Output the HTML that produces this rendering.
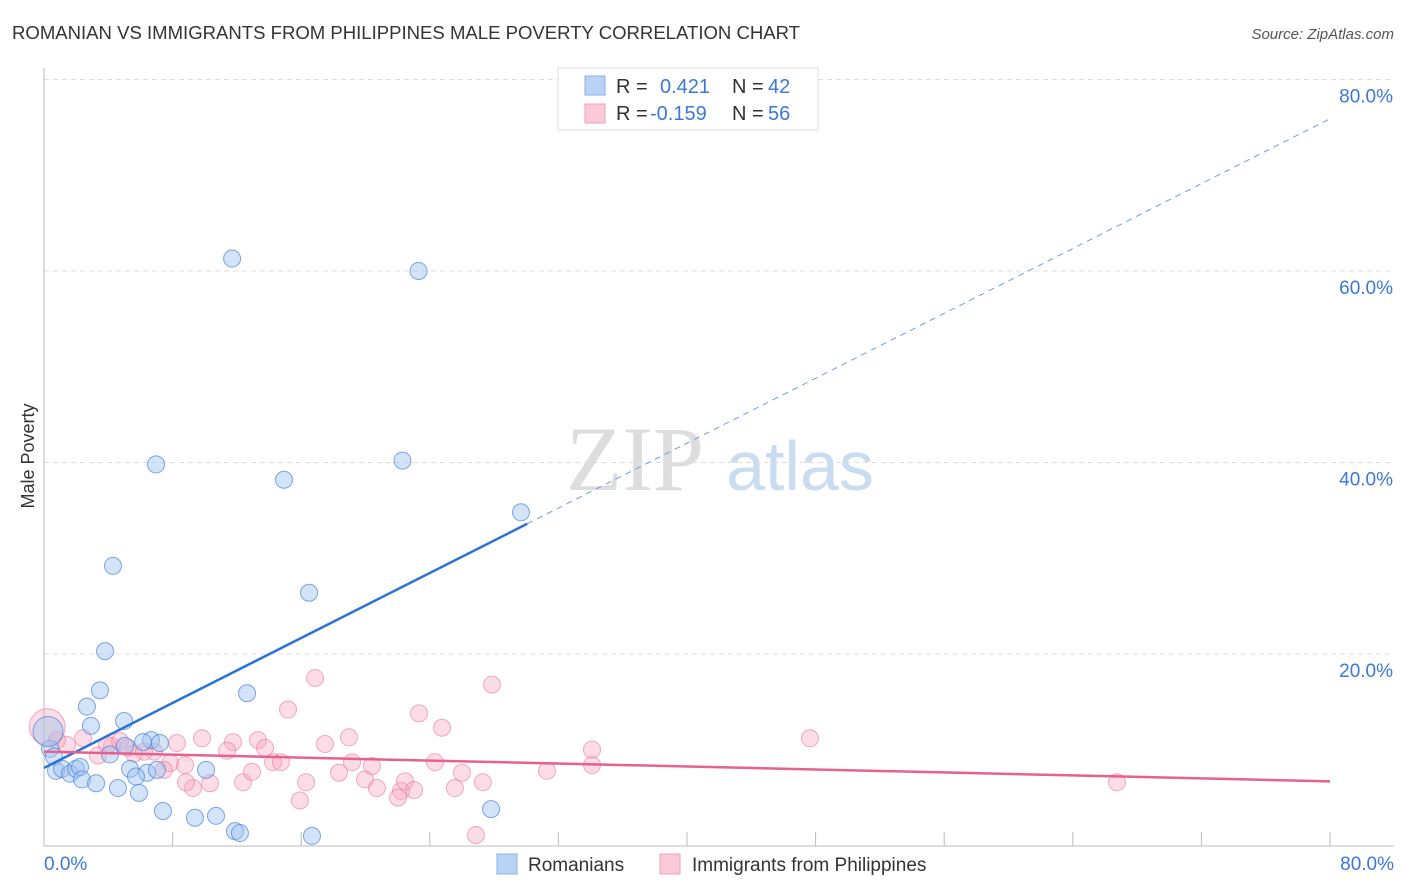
<!DOCTYPE html>
<html><head><meta charset="utf-8"><style>
body{margin:0;background:#fff;font-family:"Liberation Sans",sans-serif;}
svg{display:block}
</style></head><body>
<svg id="chart" width="1406" height="892">
<text x="12" y="39" font-size="18" fill="#333" textLength="788" lengthAdjust="spacingAndGlyphs">ROMANIAN VS IMMIGRANTS FROM PHILIPPINES MALE POVERTY CORRELATION CHART</text>
<text x="1394" y="39" font-size="15" fill="#555" font-style="italic" text-anchor="end">Source: ZipAtlas.com</text>
<text x="34" y="456" font-size="18" fill="#333" transform="rotate(-90 34 456)" text-anchor="middle">Male Poverty</text>
<g><text x="635" y="490" font-size="92" font-family="Liberation Serif,serif" fill="#ddd" text-anchor="middle">ZIP</text><text x="800" y="490" font-size="70" fill="#c9dcf2" text-anchor="middle">atlas</text></g>
<g id="grid"></g><g id="axes"></g><g id="pts"></g><g id="lines"></g>
<g>
<rect x="558" y="68" width="260" height="62" fill="#fff" stroke="#ddd"/>
<rect x="585" y="76" width="20" height="19" fill="#b8d3f5" stroke="#88b0e8"/>
<rect x="585" y="104" width="20" height="19" fill="#fbc9d7" stroke="#f0a0b8"/>
<text x="616" y="93" font-size="20" fill="#333">R = </text><text x="660" y="93" font-size="20" fill="#3b78d8">0.421</text>
<text x="732" y="93" font-size="20" fill="#333">N = </text><text x="768" y="93" font-size="20" fill="#3b78d8">42</text>
<text x="616" y="120" font-size="20" fill="#333">R = </text><text x="650" y="120" font-size="20" fill="#3b78d8">-0.159</text>
<text x="732" y="120" font-size="20" fill="#333">N = </text><text x="768" y="120" font-size="20" fill="#3b78d8">56</text>
</g>
<g>
<rect x="497" y="854" width="20" height="20" fill="#b8d3f5" stroke="#88b0e8"/>
<text x="528" y="871" font-size="19" fill="#333">Romanians</text>
<rect x="660" y="854" width="20" height="20" fill="#fbc9d7" stroke="#f0a0b8"/>
<text x="692" y="871" font-size="19" fill="#333">Immigrants from Philippines</text>
</g>
</svg>
<script>
const yTicks=[20,40,60,80];
const yTickLabels=["20.0%","40.0%","60.0%","80.0%"];
const xEndLabels=["0.0%","80.0%"];
const blueX=[11.7,23.3,6.97,22.3,14.93,29.67,4.29,16.49,3.8,3.48,12.63,2.67,4.98,2.92,6.66,6.16,5.04,4.1,0.37,0.62,0.75,1.12,1.62,1.99,2.24,5.35,10.08,7.21,6.41,7.03,5.72,2.36,3.24,4.6,5.91,7.4,10.7,9.39,11.88,12.19,16.67,27.81,0.25];
const blueY=[61.3,60.0,39.8,40.2,38.2,34.8,29.2,26.4,20.3,16.2,15.9,14.5,13.0,12.5,11.0,10.8,10.4,9.5,10.1,9.3,7.8,8.0,7.5,8.0,8.2,8.0,7.9,10.7,7.6,7.9,7.2,6.9,6.5,6.0,5.5,3.6,3.1,2.9,1.5,1.3,1.0,3.8,11.9];
const pinkX=[16.86,27.87,15.18,23.33,24.76,47.65,18.97,8.27,9.83,11.76,13.31,13.75,17.48,2.43,4.23,5.23,6.84,3.36,6.22,5.6,11.39,14.25,14.74,19.16,24.32,34.09,34.09,7.84,9.27,10.33,12.38,12.94,16.3,18.35,19.97,20.71,20.4,22.21,22.02,22.46,15.92,23.02,26.0,25.56,27.3,31.29,66.75,26.87,8.83,7.46,1.43,0.81,4.73,3.92,8.77,0.2];
const pinkY=[17.5,16.8,14.2,13.8,12.3,11.2,11.3,10.7,11.2,10.8,11.0,10.2,10.6,11.2,10.4,10.2,9.8,9.4,9.8,9.6,9.9,8.7,8.7,8.7,8.7,10.0,8.4,8.6,6.0,6.5,6.6,7.7,6.6,7.6,6.9,6.0,8.3,5.7,5.0,6.7,4.7,5.8,7.6,6.0,6.6,7.8,6.6,1.1,6.6,7.9,10.5,11.0,10.9,10.5,8.4,12.4];
const blueLine=[[0,8.1],[30.06,33.6]];
const blueDash=[[30.06,33.6],[80,75.9]];
const pinkLine=[[0,9.8],[80,6.7]];
const X=v=>44+v*16.075, Y=v=>845.5-v*9.575;
const NS="http://www.w3.org/2000/svg";
function mk(tag,attrs,parent){const e=document.createElementNS(NS,tag);for(const k in attrs)e.setAttribute(k,attrs[k]);document.getElementById(parent).appendChild(e);return e;}
yTicks.forEach((t,i)=>{
 const g=mk('line',{x1:44,x2:1394,y1:Y(t),y2:Y(t),stroke:'#ddd','stroke-dasharray':'5,4'},'grid');
 
 
 const l=mk('text',{x:1393,y:Y(t)+23,'font-size':19,fill:'#3b78d8','text-anchor':'end'},'grid');
 l.textContent=yTickLabels[i];
 
 
});
const ax=mk('line',{x1:44,x2:44,y1:68,y2:846,stroke:'#bbb'},'axes');


const bx=mk('line',{x1:44,x2:1394,y1:846,y2:846,stroke:'#bbb'},'axes');


for(let i=1;i<=10;i++){const t=mk('line',{x1:X(i*8),x2:X(i*8),y1:832,y2:846,stroke:'#bbb'},'axes');
 
 }
[[0,'start',44],[1,'end',1394]].forEach(([i,a,x])=>{const t=mk('text',{x:x,y:870,'font-size':19,fill:'#3b78d8','text-anchor':a},'axes');t.textContent=xEndLabels[i];
 
 });
pinkX.forEach((v,i)=>{const r=i==pinkX.length-1?18:8.5;const c=mk('circle',{cx:X(v),cy:Y(pinkY[i]),r:r,fill:'rgba(247,168,192,0.4)',stroke:'rgba(232,120,155,0.6)'},'pts');
 
 });
blueX.forEach((v,i)=>{const r=i==blueX.length-1?15:8.5;const c=mk('circle',{cx:X(v),cy:Y(blueY[i]),r:r,fill:'rgba(160,196,240,0.45)',stroke:'rgba(70,130,220,0.7)'},'pts');
 
 });
function ln(p,st,dash,name){const l=mk('line',{x1:X(p[0][0]),y1:Y(p[0][1]),x2:X(p[1][0]),y2:Y(p[1][1]),stroke:st,'stroke-width':dash?1:2.5,'stroke-dasharray':dash?'6,5':'none'},'lines');
 
 }
ln(blueLine,'#2a72d6',false,'trend-romanians');
ln(blueDash,'#6a9ee0',true,'trend-romanians-extension');
ln(pinkLine,'#e8608e',false,'trend-philippines');
</script>
</body></html>
